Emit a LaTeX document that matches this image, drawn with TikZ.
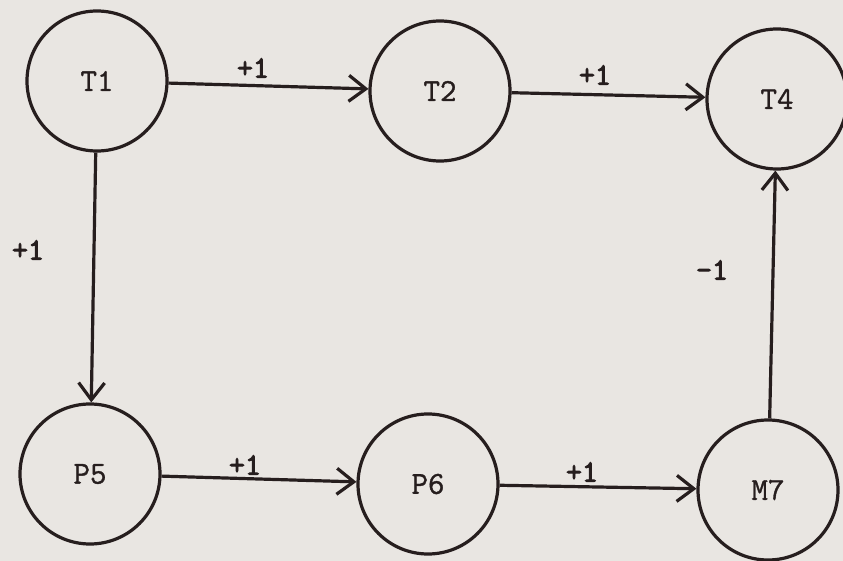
\documentclass[tikz,border=0pt]{standalone}
\usepackage{fontspec}
\newfontfamily\twfont{Latin Modern Mono}[FakeBold=1.1]
\newfontfamily\twlbl{Latin Modern Mono}[FakeBold=3]
\usetikzlibrary{arrows.meta}
\definecolor{paper}{RGB}{233,230,226}
\definecolor{ink}{RGB}{38,30,30}
\tikzset{
  state/.style={circle,draw=ink,line width=3.2pt,minimum size=140pt,inner sep=0pt,
    font=\fontsize{32}{35}\twfont,text=ink},
  lbl/.style={font=\fontsize{31}{34}\twlbl,text=ink,inner sep=0pt},
  conn/.style={draw=ink,line width=3.2pt,-{Straight Barb[length=17pt,width=26pt,line width=3.2pt]}}
}
\begin{document}
\begin{tikzpicture}[x=1pt,y=-1pt]
\fill[paper] (0,0) rectangle (843,561);
\useasboundingbox (0,0) rectangle (843,561);
\node[state] (T1) at (97,81) {T1};
\node[state] (T2) at (440,91) {T2};
\node[state] (T4) at (777,99) {T4};
\node[state] (P5) at (90,474) {P5};
\node[state] (P6) at (428,484) {P6};
\node[state] (M7) at (768,490) {M7};
\draw[conn] (T1) -- (T2);
\draw[conn] (T2) -- (T4);
\draw[conn] (T1) -- (P5);
\draw[conn] (P5) -- (P6);
\draw[conn] (P6) -- (M7);
\draw[conn] (M7) -- (T4);
\node[lbl] (l12) at (253,68) {+1};
\node[lbl] (l24) at (595,75) {+1};
\node[lbl] (l15) at (28,250) {+1};
\node[lbl] (l56) at (245,465) {+1};
\node[lbl] (l67) at (582,472) {+1};
\node[lbl] (l74) at (712,270) {-1};
\end{tikzpicture}
\end{document}
